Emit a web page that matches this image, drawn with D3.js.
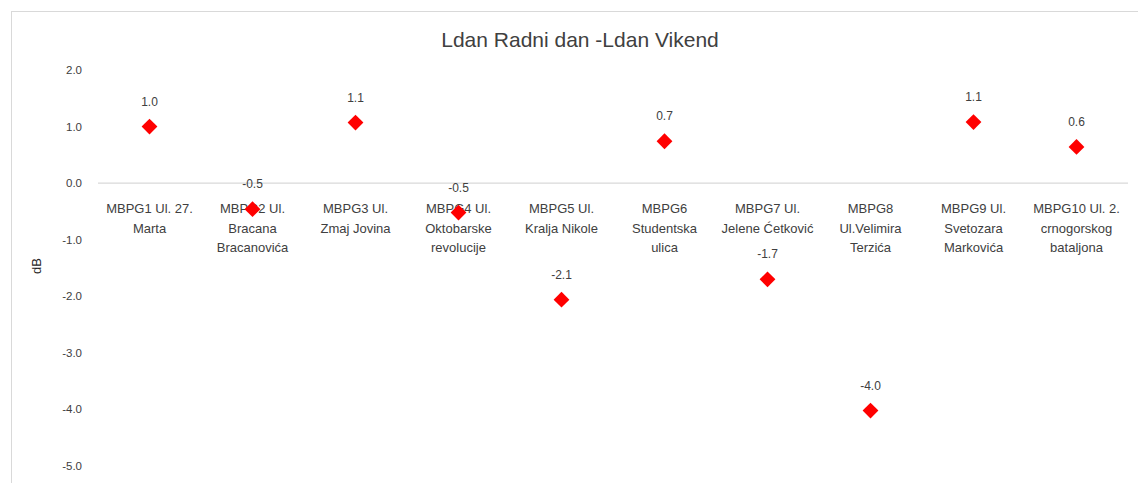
<!DOCTYPE html>
<html>
<head>
<meta charset="utf-8">
<script src="https://cdn.jsdelivr.net/npm/d3@7"></script>
<style>
  body { margin: 0; background: #fff; }
  svg { font-family: "Liberation Sans", Arial, sans-serif; }
  .frame { fill: #fff; stroke: #d9d9d9; }
  .title { font-size: 21px; fill: #404040; }
  .tick-label { font-size: 11.5px; fill: #404040; }
  .cat-label { font-size: 13px; fill: #404040; }
  .value-label { font-size: 12px; fill: #404040; }
  .zero { stroke: #d9d9d9; stroke-width: 1.2; }
</style>
</head>
<body>
<svg width="1138" height="483"></svg>
<script>
const categories = [
  ["MBPG1 Ul. 27.", "Marta"],
  ["MBPG2 Ul.", "Bracana", "Bracanovića"],
  ["MBPG3 Ul.", "Zmaj Jovina"],
  ["MBPG4 Ul.", "Oktobarske", "revolucije"],
  ["MBPG5 Ul.", "Kralja Nikole"],
  ["MBPG6", "Studentska", "ulica"],
  ["MBPG7  Ul.", "Jelene Ćetković"],
  ["MBPG8", "Ul.Velimira", "Terzića"],
  ["MBPG9 Ul.", "Svetozara", "Markovića"],
  ["MBPG10 Ul. 2.", "crnogorskog", "bataljona"]
];
const values = [1.0, -0.46, 1.07, -0.52, -2.06, 0.74, -1.70, -4.02, 1.08, 0.64];
const yTicks = [2, 1, 0, -1, -2, -3, -4, -5];

const margin = {top: 70, right: 10, bottom: 17, left: 98};
const svg = d3.select("svg");
const width = +svg.attr("width") - margin.left - margin.right;
const height = +svg.attr("height") - margin.top - margin.bottom;

// outer chart frame (bottom/right run off the picture)
svg.append("rect")
  .attr("class", "frame")
  .attr("x", 11.5).attr("y", 11.5)
  .attr("width", 1140).attr("height", 500);

svg.append("text")
  .attr("class", "title")
  .attr("x", 580).attr("y", 47)
  .attr("text-anchor", "middle")
  .text("Ldan Radni dan -Ldan Vikend");

svg.append("text")
  .attr("class", "tick-label")
  .attr("transform", "translate(41,266) rotate(-90)")
  .attr("text-anchor", "middle")
  .style("font-size", "13px")
  .style("fill", "#262626")
  .text("dB");

const vis = svg.append("g")
  .attr("transform", `translate(${margin.left},${margin.top})`);

const x = d3.scaleBand()
  .domain(d3.range(categories.length))
  .range([0, 1030]);

const y = d3.scaleLinear()
  .domain([2, -5])
  .range([0, height]);

// y tick labels
vis.append("g")
  .selectAll("text")
  .data(yTicks)
  .join("text")
  .attr("class", "tick-label")
  .attr("x", -16)
  .attr("y", d => y(d) + 4)
  .attr("text-anchor", "end")
  .text(d => d.toFixed(1));

// zero line
vis.append("line")
  .attr("class", "zero")
  .attr("x1", 0).attr("x2", x.range()[1])
  .attr("y1", y(0)).attr("y2", y(0));

// category labels below zero line
const cat = vis.append("g")
  .selectAll("text")
  .data(categories)
  .join("text")
  .attr("class", "cat-label")
  .attr("text-anchor", "middle")
  .attr("x", (d, i) => x(i) + x.bandwidth() / 2)
  .attr("y", y(0) + 30);
cat.selectAll("tspan")
  .data(d => d)
  .join("tspan")
  .attr("x", function () { return d3.select(this.parentNode).attr("x"); })
  .attr("dy", (d, i) => i === 0 ? 0 : 19.5)
  .text(d => d);

// markers
const diamond = d3.symbol(d3.symbolSquare, 125);
vis.append("g")
  .selectAll("path")
  .data(values)
  .join("path")
  .attr("d", diamond)
  .attr("fill", "#ff0000")
  .attr("transform", (d, i) => `translate(${x(i) + x.bandwidth() / 2},${y(d)}) rotate(45)`);

// value labels
vis.append("g")
  .selectAll("text")
  .data(values)
  .join("text")
  .attr("class", "value-label")
  .attr("text-anchor", "middle")
  .attr("x", (d, i) => x(i) + x.bandwidth() / 2)
  .attr("y", d => y(d) - 21)
  .text(d => d.toFixed(1));
</script>
</body>
</html>
